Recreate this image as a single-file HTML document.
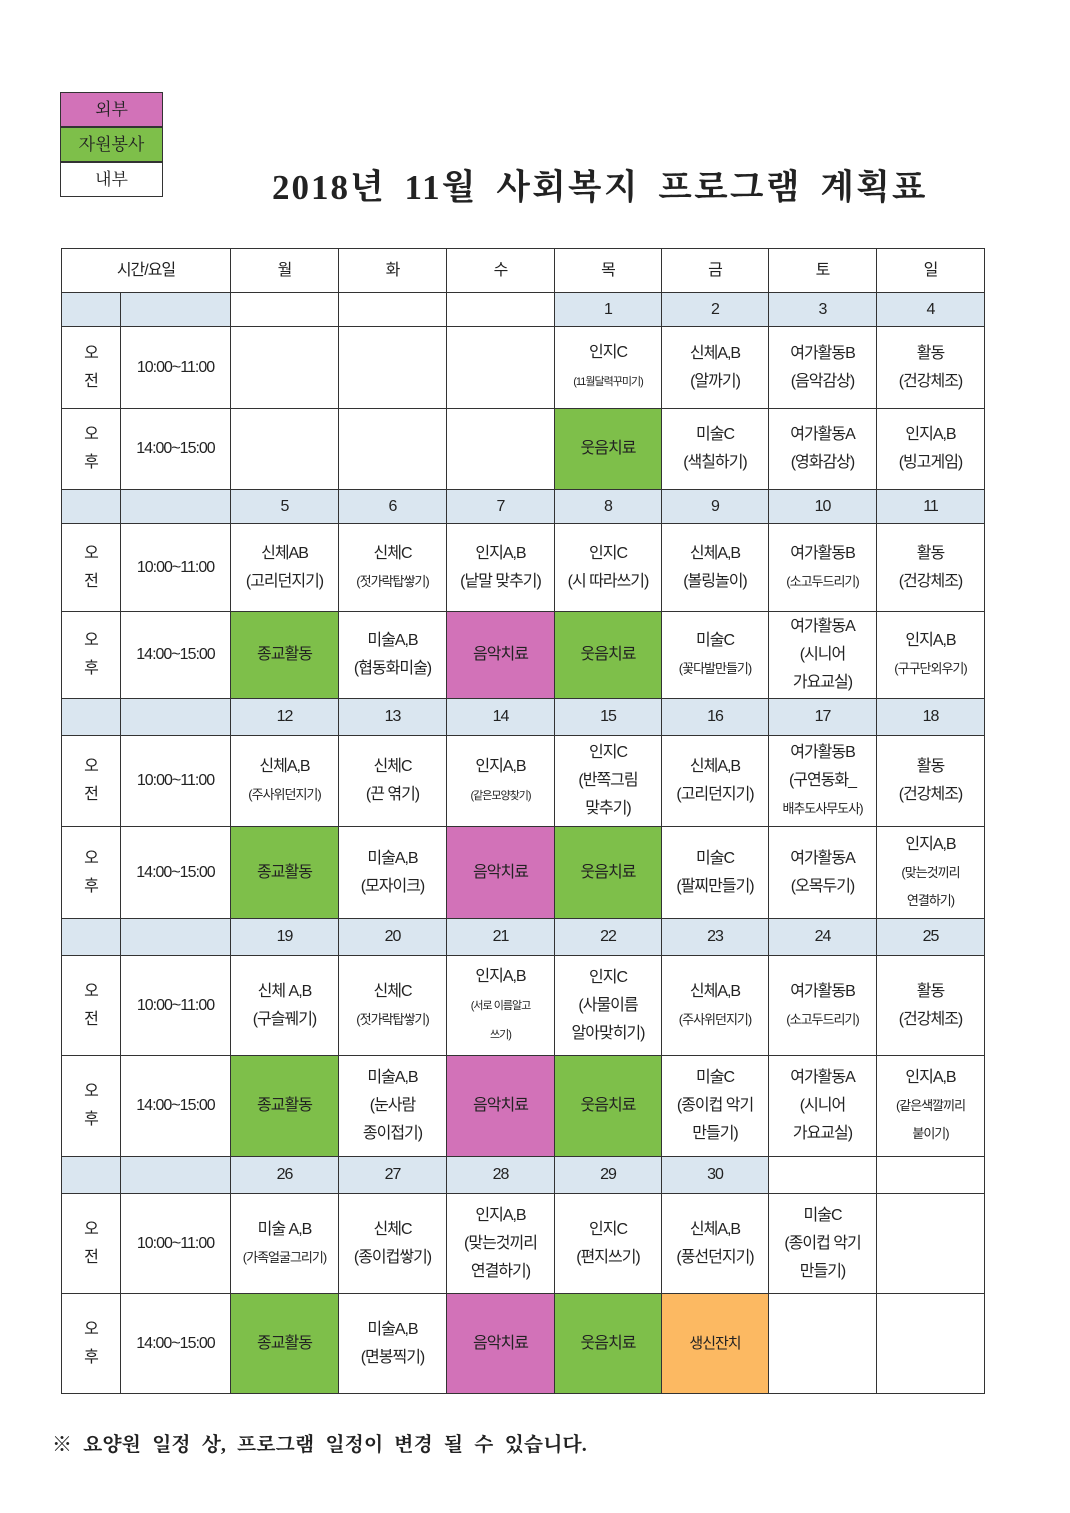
<!DOCTYPE html>
<html><head><meta charset="utf-8"><style>
*{margin:0;padding:0;box-sizing:border-box}
body{width:1070px;height:1513px;background:#fff;position:relative;font-family:"Liberation Sans","Noto Sans CJK KR",sans-serif;color:#222;overflow:hidden}
.leg{position:absolute;left:60px;width:103px;height:35px;border:1px solid #333;text-align:center;line-height:33px;font-size:17px;font-family:"Liberation Serif","Noto Serif CJK SC",serif}
.title{position:absolute;left:272px;top:160px;font-size:35px;font-weight:bold;font-family:"Liberation Serif","Noto Serif CJK SC",serif;letter-spacing:2px;word-spacing:8px}
table{position:absolute;left:61px;top:248px;border-collapse:collapse;table-layout:fixed}
td{border:1px solid #333;text-align:center;vertical-align:middle;font-size:16px;line-height:28px;letter-spacing:-1px;padding:0;overflow:hidden}
.d td{background:#dae6f0;height:34px}
.g{background:#7ebf4a!important}.m{background:#d272b8}.o{background:#fcb962;font-size:15px}
.s{font-size:13px}.xs{font-size:11px}
.foot{position:absolute;left:52px;top:1428px;font-size:20px;font-weight:bold;font-family:"Liberation Serif","Noto Serif CJK SC",serif;word-spacing:6px}
</style></head><body>
<div class="leg" style="top:92px;background:#d272b8">외부</div>
<div class="leg" style="top:127px;background:#7ebf4a">자원봉사</div>
<div class="leg" style="top:162px">내부</div>
<div class="title">2018년 11월 사회복지 프로그램 계획표</div>
<table>
<colgroup><col style="width:59px"><col style="width:110px"><col style="width:108px"><col style="width:108px"><col style="width:108px"><col style="width:107px"><col style="width:107px"><col style="width:108px"><col style="width:108px"></colgroup>
<tr style="height:44px"><td colspan="2">시간/요일</td><td>월</td><td>화</td><td>수</td><td>목</td><td>금</td><td>토</td><td>일</td></tr>
<tr class="d"><td></td><td></td><td style="background:#fff"></td><td style="background:#fff"></td><td style="background:#fff"></td><td>1</td><td>2</td><td>3</td><td>4</td></tr>
<tr style="height:82px"><td>오<br>전</td><td>10:00~11:00</td><td></td><td></td><td></td><td>인지C<br><span class="xs">(11월달력꾸미기)</span></td><td>신체A,B<br>(알까기)</td><td>여가활동B<br>(음악감상)</td><td>활동<br>(건강체조)</td></tr>
<tr style="height:81px"><td>오<br>후</td><td>14:00~15:00</td><td></td><td></td><td></td><td class="g">웃음치료</td><td>미술C<br>(색칠하기)</td><td>여가활동A<br>(영화감상)</td><td>인지A,B<br>(빙고게임)</td></tr>
<tr class="d" style="height:33px"><td></td><td></td><td>5</td><td>6</td><td>7</td><td>8</td><td>9</td><td>10</td><td>11</td></tr>
<tr style="height:88px"><td>오<br>전</td><td>10:00~11:00</td><td>신체AB<br>(고리던지기)</td><td>신체C<br><span class="s">(젓가락탑쌓기)</span></td><td>인지A,B<br>(낱말 맞추기)</td><td>인지C<br>(시 따라쓰기)</td><td>신체A,B<br>(볼링놀이)</td><td>여가활동B<br><span class="s">(소고두드리기)</span></td><td>활동<br>(건강체조)</td></tr>
<tr style="height:87px"><td>오<br>후</td><td>14:00~15:00</td><td class="g">종교활동</td><td>미술A,B<br>(협동화미술)</td><td class="m">음악치료</td><td class="g">웃음치료</td><td>미술C<br><span class="s">(꽃다발만들기)</span></td><td>여가활동A<br>(시니어<br>가요교실)</td><td>인지A,B<br><span class="s">(구구단외우기)</span></td></tr>
<tr class="d" style="height:37px"><td></td><td></td><td>12</td><td>13</td><td>14</td><td>15</td><td>16</td><td>17</td><td>18</td></tr>
<tr style="height:91px"><td>오<br>전</td><td>10:00~11:00</td><td>신체A,B<br><span class="s">(주사위던지기)</span></td><td>신체C<br>(끈 엮기)</td><td>인지A,B<br><span class="xs">(같은모양찾기)</span></td><td>인지C<br>(반쪽그림<br>맞추기)</td><td>신체A,B<br>(고리던지기)</td><td>여가활동B<br>(구연동화_<br><span class="s">배추도사무도사)</span></td><td>활동<br>(건강체조)</td></tr>
<tr style="height:92px"><td>오<br>후</td><td>14:00~15:00</td><td class="g">종교활동</td><td>미술A,B<br>(모자이크)</td><td class="m">음악치료</td><td class="g">웃음치료</td><td>미술C<br>(팔찌만들기)</td><td>여가활동A<br>(오목두기)</td><td>인지A,B<br><span class="s">(맞는것끼리<br>연결하기)</span></td></tr>
<tr class="d" style="height:37px"><td></td><td></td><td>19</td><td>20</td><td>21</td><td>22</td><td>23</td><td>24</td><td>25</td></tr>
<tr style="height:100px"><td>오<br>전</td><td>10:00~11:00</td><td>신체 A,B<br>(구슬꿰기)</td><td>신체C<br><span class="s">(젓가락탑쌓기)</span></td><td>인지A,B<br><span class="xs">(서로 이름알고<br>쓰기)</span></td><td>인지C<br>(사물이름<br>알아맞히기)</td><td>신체A,B<br><span class="s">(주사위던지기)</span></td><td>여가활동B<br><span class="s">(소고두드리기)</span></td><td>활동<br>(건강체조)</td></tr>
<tr style="height:101px"><td>오<br>후</td><td>14:00~15:00</td><td class="g">종교활동</td><td>미술A,B<br>(눈사람<br>종이접기)</td><td class="m">음악치료</td><td class="g">웃음치료</td><td>미술C<br>(종이컵 악기<br>만들기)</td><td>여가활동A<br>(시니어<br>가요교실)</td><td>인지A,B<br><span class="s">(같은색깔끼리<br>붙이기)</span></td></tr>
<tr class="d" style="height:37px"><td></td><td></td><td>26</td><td>27</td><td>28</td><td>29</td><td>30</td><td style="background:#fff"></td><td style="background:#fff"></td></tr>
<tr style="height:100px"><td>오<br>전</td><td>10:00~11:00</td><td>미술 A,B<br><span class="s">(가족얼굴그리기)</span></td><td>신체C<br>(종이컵쌓기)</td><td>인지A,B<br>(맞는것끼리<br>연결하기)</td><td>인지C<br>(편지쓰기)</td><td>신체A,B<br>(풍선던지기)</td><td>미술C<br>(종이컵 악기<br>만들기)</td><td></td></tr>
<tr style="height:100px"><td>오<br>후</td><td>14:00~15:00</td><td class="g">종교활동</td><td>미술A,B<br>(면봉찍기)</td><td class="m">음악치료</td><td class="g">웃음치료</td><td class="o">생신잔치</td><td></td><td></td></tr>
</table>
<div class="foot">※ 요양원 일정 상, 프로그램 일정이 변경 될 수 있습니다.</div>
</body></html>
